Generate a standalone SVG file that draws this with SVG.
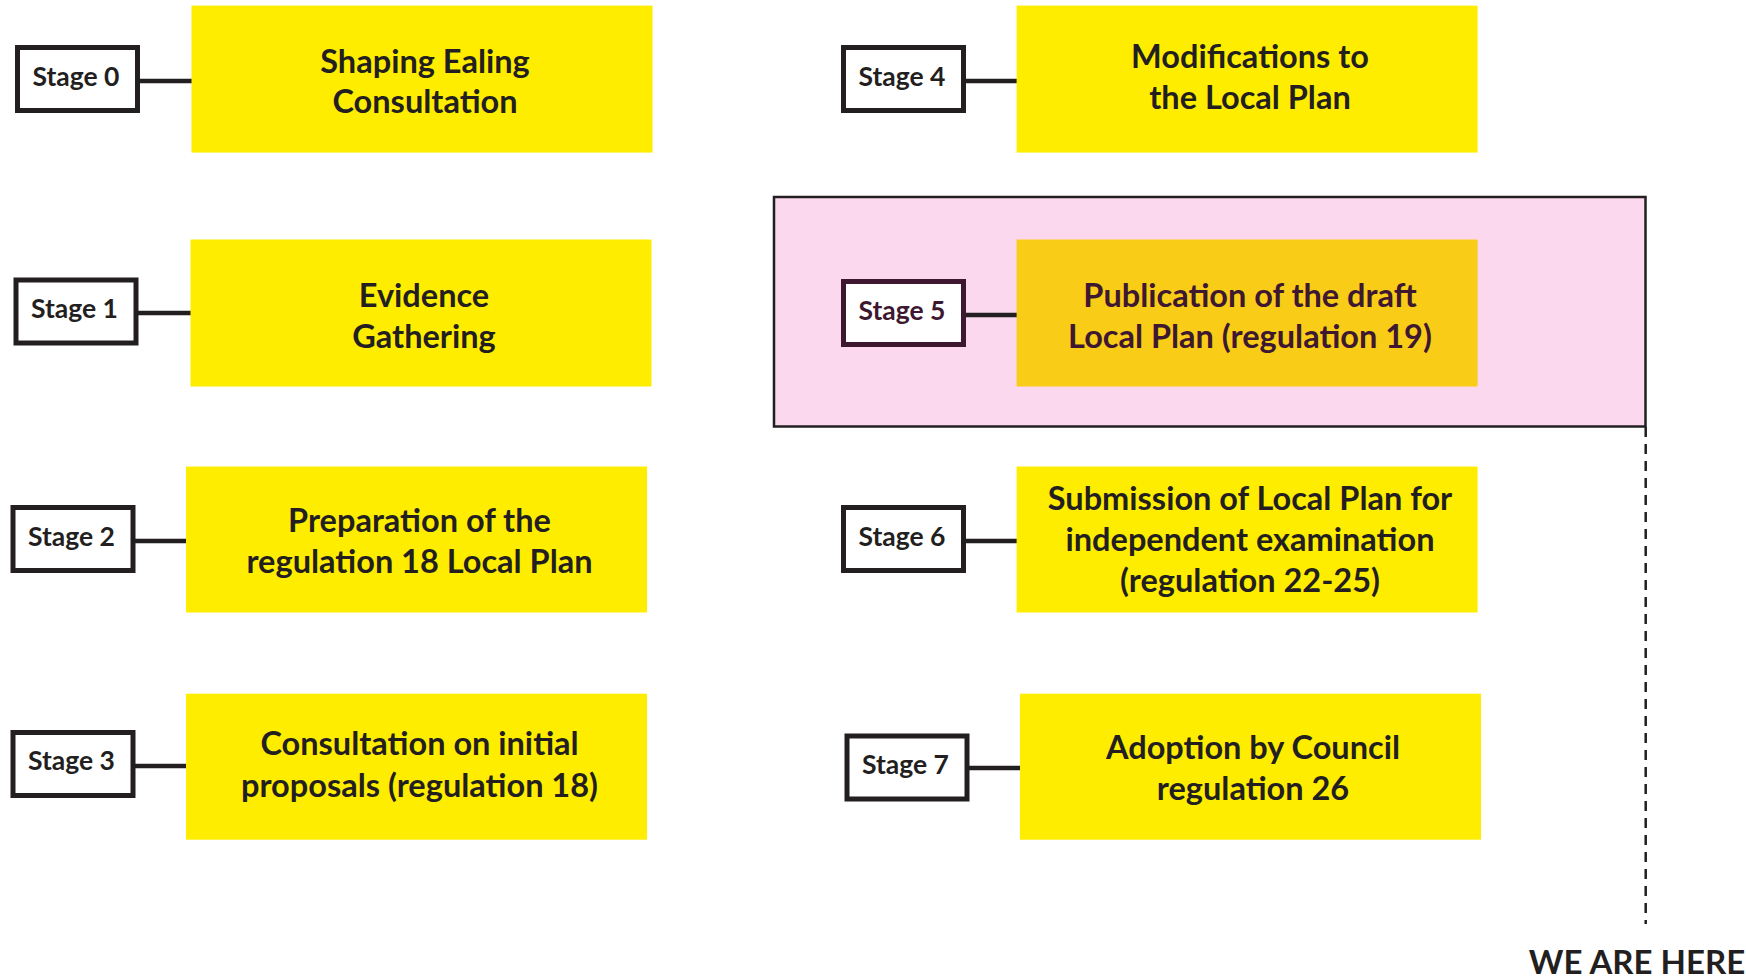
<svg xmlns="http://www.w3.org/2000/svg" width="1746" height="978" viewBox="0 0 1746 978">
<style>
.stage{fill:#fff;stroke:#231f20;stroke-width:5}
.box{fill:#ffed00}
.st{font-family:Lato,"Open Sans",sans-serif;font-weight:700;font-size:26.5px;fill:#231f20;text-anchor:middle;dominant-baseline:central}
.bt{font-family:Lato,"Open Sans",sans-serif;font-weight:700;font-size:32.5px;fill:#231f20;text-anchor:middle;dominant-baseline:central}
.conn{stroke:#231f20;stroke-width:4.5}
.hl .stage{stroke:#3d1830}
.hl .st,.hl .bt{fill:#3d1830}
</style>
<rect x="774" y="197" width="871.5" height="229.5" fill="#fbd8ee" stroke="#231f20" stroke-width="2.5"/>
<g id="connectors">
<line class="conn" x1="139" y1="81" x2="192" y2="81"/>
<line class="conn" x1="137" y1="313" x2="191" y2="313"/>
<line class="conn" x1="134" y1="541" x2="187" y2="541"/>
<line class="conn" x1="134" y1="766" x2="187" y2="766"/>
<line class="conn" x1="964" y1="81" x2="1017" y2="81"/>
<line class="conn" x1="964" y1="315" x2="1017" y2="315" stroke="#3d1830"/>
<line class="conn" x1="964" y1="541" x2="1017" y2="541"/>
<line class="conn" x1="967" y1="768" x2="1020" y2="768"/>
<line x1="1645.7" y1="427" x2="1645.7" y2="924" stroke="#231f20" stroke-width="2.5" stroke-dasharray="10,7"/>
</g>
<g id="stage0">
<rect class="box" x="191.5" y="5.6" width="461" height="147"/>
<rect class="stage" x="17.5" y="47.5" width="120" height="63"/>
<text class="st" x="76" y="76">Stage 0</text>
<text class="bt" x="425" y="60">Shaping Ealing</text>
<text class="bt" x="425" y="100">Consultation</text>
</g>
<g id="stage1">
<rect class="box" x="190.5" y="239.5" width="461" height="147"/>
<rect class="stage" x="16" y="280" width="120" height="63"/>
<text class="st" x="74.5" y="308">Stage 1</text>
<text class="bt" x="424" y="294">Evidence</text>
<text class="bt" x="424" y="335">Gathering</text>
</g>
<g id="stage2">
<rect class="box" x="186" y="466.5" width="461" height="146"/>
<rect class="stage" x="13" y="507.5" width="120" height="63"/>
<text class="st" x="71.5" y="536">Stage 2</text>
<text class="bt" x="419.5" y="519">Preparation of the</text>
<text class="bt" x="419.5" y="560">regulation 18 Local Plan</text>
</g>
<g id="stage3">
<rect class="box" x="186" y="693.7" width="461" height="146"/>
<rect class="stage" x="13" y="732.5" width="120" height="63"/>
<text class="st" x="71.5" y="760">Stage 3</text>
<text class="bt" x="419.5" y="742">Consultation on initial</text>
<text class="bt" x="419.5" y="784">proposals (regulation 18)</text>
</g>
<g id="stage4">
<rect class="box" x="1016.6" y="5.6" width="461" height="147"/>
<rect class="stage" x="843.5" y="47.5" width="120" height="63"/>
<text class="st" x="902" y="76">Stage 4</text>
<text class="bt" x="1250" y="55">Modifications to</text>
<text class="bt" x="1250" y="96">the Local Plan</text>
</g>
<g id="stage5" class="hl">
<rect x="1016.6" y="239.5" width="461" height="147" fill="#f9cc17"/>
<rect class="stage" x="843.5" y="281.5" width="120" height="63"/>
<text class="st" x="902" y="310">Stage 5</text>
<text class="bt" x="1250" y="294">Publication of the draft</text>
<text class="bt" x="1250" y="335">Local Plan (regulation 19)</text>
</g>
<g id="stage6">
<rect class="box" x="1016.6" y="466.5" width="461" height="146"/>
<rect class="stage" x="843.5" y="507.5" width="120" height="63"/>
<text class="st" x="902" y="536">Stage 6</text>
<text class="bt" x="1250" y="497">Submission of Local Plan for</text>
<text class="bt" x="1250" y="538">independent examination</text>
<text class="bt" x="1250" y="579">(regulation 22-25)</text>
</g>
<g id="stage7">
<rect class="box" x="1020" y="693.7" width="461" height="146"/>
<rect class="stage" x="847" y="736" width="120" height="63"/>
<text class="st" x="905.5" y="764">Stage 7</text>
<text class="bt" x="1253" y="746">Adoption by Council</text>
<text class="bt" x="1253" y="787">regulation 26</text>
</g>
<g id="here">
<text x="1637" y="961" font-family="Lato,'Open Sans',sans-serif" font-weight="700" font-size="33" fill="#231f20" text-anchor="middle" dominant-baseline="central">WE ARE HERE</text>
</g>
</svg>
